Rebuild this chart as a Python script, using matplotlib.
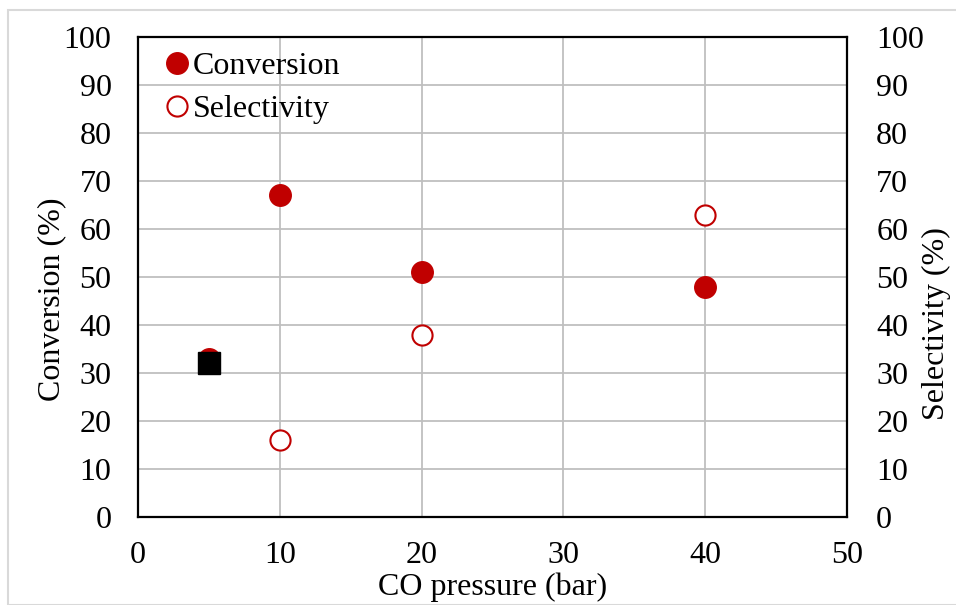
import matplotlib
matplotlib.use("Agg")
import matplotlib.pyplot as plt
from matplotlib.patches import Rectangle

# CO pressure (bar) and measured values
pressure = [5, 10, 20, 40]
conversion = [33, 67, 51, 48]
sel_pressure = [10, 20, 40]
selectivity = [16, 38, 63]
ref_pressure = [5]
ref_value = [32]

x_ticks = [0, 10, 20, 30, 40, 50]
y_ticks = [0, 10, 20, 30, 40, 50, 60, 70, 80, 90, 100]

plt.rcParams['font.family'] = ['Liberation Serif', 'DejaVu Serif']
FS = 23

W, H = 956, 605
fig = plt.figure(figsize=(W / 100, H / 100), dpi=100)

# light frame around the chart area
fig.patches.append(Rectangle((8 / W, 0), 1, 1 - 10 / H, transform=fig.transFigure,
                             fill=False, edgecolor='#D9D9D9', linewidth=1.5, zorder=0))

ax = fig.add_axes([138 / W, (H - 517) / H, 709 / W, 480 / H])
ax.set_xlim(0, 50)
ax.set_ylim(0, 100)
ax.set_xticks(x_ticks)
ax.set_yticks(y_ticks)
ax.grid(True, color='#BFBFBF', linewidth=1.3)
ax.set_axisbelow(True)
ax.tick_params(axis='y', length=0, labelsize=FS, pad=19)
ax.tick_params(axis='x', length=0, labelsize=FS, pad=17)
for s in ax.spines.values():
    s.set_linewidth(1.6)
    s.set_color('black')

red = '#C00000'
ax.plot(pressure, conversion, 'o', color=red, markersize=15.5, linestyle='none',
        label='Conversion', zorder=3)
ax.plot(sel_pressure, selectivity, 'o', markerfacecolor='white', markeredgecolor=red,
        markeredgewidth=1.5, markersize=14.5, linestyle='none', label='Selectivity', zorder=3)
ax.plot(ref_pressure, ref_value, 's', color='black', markersize=16.5, linestyle='none', zorder=4)

ax.set_xlabel('CO pressure (bar)', fontsize=FS, labelpad=2)
ax.set_ylabel('Conversion (%)', fontsize=FS)
ax.yaxis.set_label_coords(-0.1016, 0.454)

ax2 = ax.twinx()
ax2.set_ylim(0, 100)
ax2.set_yticks(y_ticks)
ax2.tick_params(length=0, labelsize=FS, pad=21)
for s in ax2.spines.values():
    s.set_visible(False)
ax2.set_ylabel('Selectivity (%)', fontsize=FS)
ax2.yaxis.set_label_coords(1.1058, 0.402)

leg = ax.legend(loc='upper left', bbox_to_anchor=(0.023, 0.982), frameon=False, fontsize=FS,
                handletextpad=0.0, labelspacing=0.43, borderaxespad=0.0, borderpad=0.2,
                handlelength=1.0, markerscale=1.0)

fig.savefig('out.png', dpi=100)
